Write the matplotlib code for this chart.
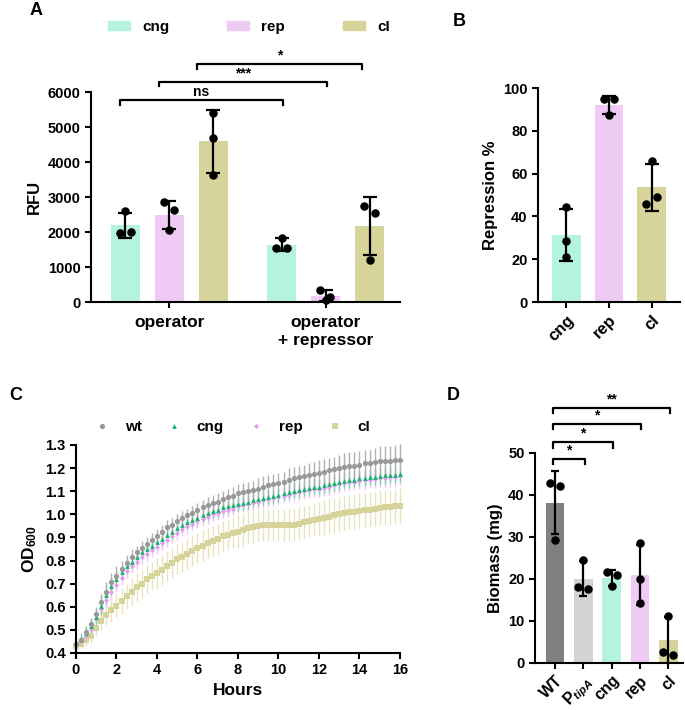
import numpy as np
import matplotlib
matplotlib.use("Agg")
import matplotlib.pyplot as plt
from matplotlib.patches import Patch
from matplotlib.lines import Line2D

plt.rcParams["font.family"] = ["Liberation Sans", "DejaVu Sans"]
plt.rcParams["font.weight"] = "bold"
plt.rcParams["axes.labelweight"] = "bold"
plt.rcParams["axes.linewidth"] = 1.5
plt.rcParams["xtick.major.width"] = 1.5
plt.rcParams["ytick.major.width"] = 1.5
plt.rcParams["xtick.major.size"] = 4
plt.rcParams["ytick.major.size"] = 4
plt.rcParams["xtick.labelsize"] = 10.5
plt.rcParams["ytick.labelsize"] = 10.5
plt.rcParams["mathtext.fontset"] = "custom"
plt.rcParams["mathtext.rm"] = "Liberation Sans:bold"
plt.rcParams["mathtext.it"] = "Liberation Sans:bold:italic"
plt.rcParams["mathtext.bf"] = "Liberation Sans:bold"

# ---------------- data ----------------
strains = ["cng", "rep", "cI"]
groups = ["operator", "operator\n+ repressor"]

# A: RFU
rfu_op_mean = [2190, 2500, 4590]
rfu_op_sd = [350, 400, 910]
rfu_op_pts = [[2600, 1980, 1990], [2857, 2619, 2048], [5410, 4695, 3620]]
rfu_rep_mean = [1640, 180, 2160]
rfu_rep_sd = [180, 150, 830]
rfu_rep_pts = [[1840, 1530, 1530], [350, 145, 50], [2730, 2540, 1210]]
a_sig = ["ns", "***", "*"]
a_sig_y = [5760, 6300, 6810]

# B: repression %
rep_mean = [31.3, 92.2, 53.6]
rep_sd = [12.0, 4.2, 11.0]
rep_pts = [[44.2, 28.6, 21.1], [95.0, 95.0, 87.2], [65.8, 49.2, 45.8]]

# C: growth curves (OD600 every 15 min)
hours = np.arange(0, 16.01, 0.25)
od_wt = [0.440, 0.455, 0.490, 0.525, 0.570, 0.620, 0.665, 0.705,
         0.735, 0.765, 0.790, 0.815, 0.835, 0.855, 0.870, 0.890,
         0.905, 0.925, 0.945, 0.955, 0.970, 0.985, 0.995, 1.005,
         1.020, 1.030, 1.040, 1.050, 1.055, 1.065, 1.075, 1.080,
         1.090, 1.095, 1.100, 1.105, 1.110, 1.120, 1.125, 1.130,
         1.135, 1.140, 1.150, 1.155, 1.160, 1.165, 1.170, 1.175,
         1.180, 1.185, 1.190, 1.195, 1.200, 1.205, 1.210, 1.210,
         1.215, 1.220, 1.220, 1.225, 1.230, 1.230, 1.232, 1.235,
         1.237]
sd_wt = [0.010, 0.015, 0.020, 0.025, 0.030, 0.035, 0.040, 0.040,
         0.040, 0.035, 0.035, 0.035, 0.030, 0.030, 0.030, 0.030,
         0.030, 0.030, 0.030, 0.030, 0.030, 0.030, 0.030, 0.030,
         0.030, 0.030, 0.035, 0.035, 0.035, 0.035, 0.035, 0.040,
         0.040, 0.040, 0.040, 0.040, 0.045, 0.045, 0.045, 0.045,
         0.045, 0.045, 0.050, 0.050, 0.050, 0.050, 0.050, 0.050,
         0.055, 0.055, 0.055, 0.055, 0.055, 0.060, 0.060, 0.060,
         0.060, 0.060, 0.060, 0.060, 0.065, 0.065, 0.065, 0.065,
         0.065]
od_cng = [0.445, 0.460, 0.485, 0.515, 0.555, 0.605, 0.650, 0.690,
          0.720, 0.750, 0.775, 0.795, 0.815, 0.835, 0.850, 0.865,
          0.880, 0.895, 0.910, 0.925, 0.940, 0.955, 0.965, 0.975,
          0.985, 0.995, 1.005, 1.015, 1.020, 1.030, 1.035, 1.040,
          1.045, 1.050, 1.055, 1.060, 1.065, 1.070, 1.075, 1.080,
          1.085, 1.090, 1.095, 1.100, 1.105, 1.110, 1.115, 1.120,
          1.120, 1.125, 1.130, 1.135, 1.140, 1.145, 1.148, 1.150,
          1.155, 1.158, 1.160, 1.162, 1.165, 1.168, 1.170, 1.172,
          1.175]
sd_cng = [0.020, 0.025, 0.030, 0.030, 0.035, 0.040, 0.040, 0.040,
          0.035, 0.030, 0.030, 0.030, 0.030, 0.030, 0.030, 0.030,
          0.030, 0.030, 0.030, 0.030, 0.030, 0.030, 0.030, 0.030,
          0.030, 0.030, 0.030, 0.030, 0.030, 0.030, 0.030, 0.030,
          0.030, 0.030, 0.030, 0.030, 0.030, 0.030, 0.030, 0.030,
          0.030, 0.030, 0.030, 0.030, 0.030, 0.032, 0.032, 0.032,
          0.032, 0.032, 0.033, 0.033, 0.033, 0.033, 0.034, 0.034,
          0.034, 0.034, 0.035, 0.035, 0.035, 0.035, 0.035, 0.035,
          0.035]
od_rep = [0.435, 0.450, 0.475, 0.505, 0.545, 0.590, 0.630, 0.665,
          0.695, 0.725, 0.755, 0.775, 0.795, 0.815, 0.830, 0.845,
          0.860, 0.875, 0.890, 0.905, 0.920, 0.935, 0.950, 0.960,
          0.970, 0.980, 0.990, 1.000, 1.005, 1.015, 1.020, 1.025,
          1.035, 1.040, 1.045, 1.050, 1.055, 1.060, 1.065, 1.070,
          1.075, 1.080, 1.085, 1.090, 1.095, 1.100, 1.105, 1.110,
          1.110, 1.115, 1.120, 1.125, 1.130, 1.135, 1.138, 1.140,
          1.145, 1.148, 1.150, 1.152, 1.155, 1.158, 1.160, 1.162,
          1.165]
sd_rep = [0.015, 0.020, 0.020, 0.025, 0.025, 0.030, 0.030, 0.030,
          0.030, 0.030, 0.030, 0.030, 0.030, 0.030, 0.030, 0.030,
          0.030, 0.030, 0.030, 0.030, 0.030, 0.030, 0.030, 0.030,
          0.030, 0.030, 0.030, 0.030, 0.030, 0.030, 0.030, 0.030,
          0.030, 0.030, 0.030, 0.030, 0.032, 0.032, 0.032, 0.032,
          0.033, 0.033, 0.033, 0.033, 0.034, 0.034, 0.034, 0.034,
          0.035, 0.035, 0.035, 0.035, 0.036, 0.036, 0.036, 0.036,
          0.037, 0.037, 0.038, 0.038, 0.039, 0.039, 0.040, 0.040,
          0.040]
od_cl = [0.430, 0.440, 0.455, 0.475, 0.510, 0.540, 0.565, 0.585,
         0.605, 0.625, 0.645, 0.665, 0.685, 0.700, 0.720, 0.735,
         0.745, 0.760, 0.775, 0.790, 0.805, 0.815, 0.830, 0.840,
         0.855, 0.865, 0.875, 0.885, 0.895, 0.905, 0.910, 0.920,
         0.925, 0.930, 0.940, 0.945, 0.950, 0.955, 0.955, 0.955,
         0.955, 0.955, 0.955, 0.955, 0.960, 0.965, 0.970, 0.975,
         0.980, 0.985, 0.990, 0.995, 1.000, 1.005, 1.010, 1.012,
         1.015, 1.018, 1.020, 1.025, 1.028, 1.030, 1.032, 1.035,
         1.038]
sd_cl = [0.015, 0.020, 0.025, 0.030, 0.035, 0.040, 0.045, 0.050,
         0.050, 0.055, 0.055, 0.060, 0.060, 0.060, 0.060, 0.060,
         0.065, 0.065, 0.065, 0.065, 0.065, 0.065, 0.065, 0.065,
         0.065, 0.065, 0.065, 0.065, 0.065, 0.065, 0.065, 0.065,
         0.070, 0.070, 0.070, 0.070, 0.070, 0.070, 0.070, 0.070,
         0.070, 0.070, 0.070, 0.070, 0.070, 0.070, 0.070, 0.070,
         0.075, 0.075, 0.075, 0.075, 0.075, 0.075, 0.075, 0.075,
         0.075, 0.075, 0.075, 0.075, 0.075, 0.075, 0.075, 0.075,
         0.077]

# D: biomass
d_labels = ["WT", r"P$_{\mathit{tipA}}$", "cng", "rep", "cI"]
bio_mean = [38.1, 20.1, 20.2, 21.0, 5.4]
bio_sd = [7.5, 4.1, 1.9, 7.1, 5.6]
bio_pts = [[42.9, 42.2, 29.4], [24.6, 18.0, 17.6], [21.6, 21.0, 18.4],
           [28.6, 20.0, 14.4], [11.3, 2.5, 2.0]]
d_sig = ["*", "*", "*", "**"]
d_sig_y = [48.6, 52.5, 56.9, 60.6]

# ---------------- style ----------------
c_cng = "#b4f4dd"
c_rep = "#eecaf5"
c_cl = "#d6d49b"
bar_cols = [c_cng, c_rep, c_cl]


def bars_with_points(ax, xs, means, sds, pts, cols, width, capsize, jit):
    ax.bar(xs, means, width=width, color=cols, zorder=1)
    ax.errorbar(xs, means, yerr=sds, fmt="none", ecolor="black",
                elinewidth=1.6, capsize=capsize, capthick=1.6, zorder=3)
    for x, p, j in zip(xs, pts, jit):
        ax.scatter(np.array(j) + x, p, s=26, color="black", zorder=4,
                   clip_on=False)


def bracket(ax, x0, x1, y, drop, label, fs=10):
    ax.plot([x0, x0, x1, x1], [y - drop, y, y, y - drop], color="black",
            lw=1.6, clip_on=False)
    ax.text((x0 + x1) / 2, y + drop * 0.3, label, ha="center", va="bottom",
            fontsize=fs, fontweight="bold")


def clean(ax):
    ax.spines["top"].set_visible(False)
    ax.spines["right"].set_visible(False)


fig = plt.figure(figsize=(6.85, 7.10), dpi=100)

# ---------------- A ----------------
axA = fig.add_axes([0.1328, 0.5746, 0.4511, 0.2958])
xa1 = np.array([0, 1, 2])
xa2 = np.array([3.55, 4.55, 5.55])
bars_with_points(axA, xa1, rfu_op_mean, rfu_op_sd, rfu_op_pts, bar_cols, 0.66, 5,
                 [[0, -0.12, 0.12], [-0.12, 0.1, 0], [0, 0, 0]])
bars_with_points(axA, xa2, rfu_rep_mean, rfu_rep_sd, rfu_rep_pts, bar_cols, 0.66, 5,
                 [[0, -0.12, 0.12], [-0.12, 0.1, 0], [-0.12, 0.12, 0]])
axA.set_xlim(-0.78, 6.24)
axA.set_ylim(0, 6000)
axA.set_yticks(range(0, 6001, 1000))
axA.set_xticks([1, 4.55])
axA.set_xticklabels(groups, fontsize=12.5, linespacing=1.25)
axA.tick_params(axis="x", pad=5)
axA.set_ylabel("RFU", fontsize=12)
clean(axA)
spans = [(-0.125, 3.58), (0.76, 4.58), (1.625, 5.375)]
for (x0, x1), lab, y in zip(spans, a_sig, a_sig_y):
    bracket(axA, x0, x1, y, 140, lab)
fig.legend(handles=[Patch(color=c, label=s) for c, s in zip(bar_cols, strains)],
           loc="center", bbox_to_anchor=(0.3635, 0.962), ncol=3, frameon=False,
           fontsize=11, handlelength=1.45, handleheight=0.6, handletextpad=0.8,
           columnspacing=3.8)

# ---------------- B ----------------
axB = fig.add_axes([0.7854, 0.5746, 0.2073, 0.3014])
xb = np.arange(3)
bars_with_points(axB, xb, rep_mean, rep_sd, rep_pts, bar_cols, 0.66, 5,
                 [[0, 0, 0], [-0.12, 0.12, 0], [0, 0.12, -0.12]])
axB.set_xlim(-0.67, 2.67)
axB.set_ylim(0, 100)
axB.set_yticks(range(0, 101, 20))
axB.set_xticks(xb)
axB.set_xticklabels(strains, fontsize=12, rotation=45, ha="right",
                    rotation_mode="anchor")
axB.set_ylabel("Repression %", fontsize=12)
clean(axB)

# ---------------- C ----------------
axC = fig.add_axes([0.1109, 0.0803, 0.473, 0.293])
series = [
    ("cI", od_cl, sd_cl, "s", 4.3, "#d6d49b", "#e6e4bf"),
    ("rep", od_rep, sd_rep, "D", 2.6, "#e59cf0", "#f0c2f5"),
    ("cng", od_cng, sd_cng, "^", 3.4, "#18b46c", "#6fd8a8"),
    ("wt", od_wt, sd_wt, "o", 3.8, "#999999", "#b0b0b0"),
]
for name, m, s, mk, ms, col, ecol in series:
    axC.errorbar(hours, m, yerr=s, fmt=mk, ms=ms, color=col, ecolor=ecol,
                 elinewidth=1.0, capsize=1.8, capthick=1.0, mew=0, clip_on=False)
axC.set_xlim(0, 16)
axC.set_ylim(0.4, 1.3)
axC.set_xticks(range(0, 17, 2))
axC.set_yticks(np.round(np.arange(0.4, 1.31, 0.1), 1))
axC.set_yticklabels([f"{v:.1f}" for v in np.arange(0.4, 1.31, 0.1)])
axC.set_xlabel("Hours", fontsize=12.5)
axC.set_ylabel("OD$_{600}$", fontsize=12.5)
clean(axC)
leg_handles = [Line2D([], [], ls="none", marker=mk, ms=ms, color=col, mew=0,
                      label=name) for name, m, s, mk, ms, col, ecol in series[::-1]]
fig.legend(handles=leg_handles, loc="center", bbox_to_anchor=(0.339, 0.3986),
           ncol=4, frameon=False, fontsize=11, handlelength=1.0,
           handletextpad=1.0, columnspacing=1.6)

# ---------------- D ----------------
axD = fig.add_axes([0.781, 0.0662, 0.216, 0.2958])
xd = np.arange(5)
bars_with_points(axD, xd, bio_mean, bio_sd, bio_pts,
                 ["#808080", "#d3d3d3", c_cng, c_rep, c_cl], 0.66, 3.2,
                 [[-0.18, 0.18, 0], [0, -0.18, 0.15], [-0.18, 0.18, 0],
                  [0, 0, 0], [0, -0.18, 0.18]])
axD.set_xlim(-0.71, 4.52)
axD.set_ylim(0, 50)
axD.set_yticks(range(0, 51, 10))
axD.set_xticks(xd)
axD.set_xticklabels(d_labels, fontsize=11.5, rotation=45, ha="right",
                    rotation_mode="anchor")
axD.tick_params(axis="x", pad=3)
axD.set_ylabel("Biomass (mg)", fontsize=12)
clean(axD)
for i, (lab, y) in enumerate(zip(d_sig, d_sig_y)):
    bracket(axD, -0.08, i + 1.05, y, 1.2, lab, fs=10)

# panel letters
for lab, x, y in [("A", 0.052, 0.985), ("B", 0.671, 0.97),
                  ("C", 0.023, 0.443), ("D", 0.662, 0.443)]:
    fig.text(x, y, lab, fontsize=13, fontweight="bold", ha="center", va="center")

fig.savefig("out.png", dpi=100)
